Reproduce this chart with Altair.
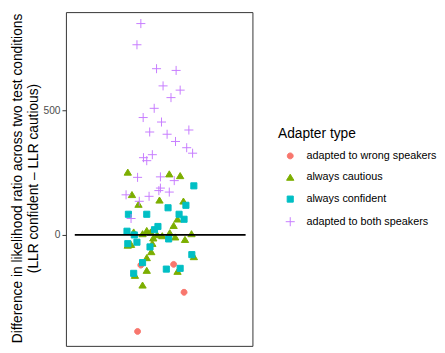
import altair as alt
import pandas as pd

types = ["adapted to wrong speakers", "always cautious", "always confident", "adapted to both speakers"]
colors = ["#F8766D", "#7CAE00", "#00BFC4", "#C77CFF"]
fills = ["#F8766D", "#7CAE00", "#00BFC4", "transparent"]
shapes = [
    "M-0.85,0A0.85,0.85 0 1,0 0.85,0A0.85,0.85 0 1,0 -0.85,0Z",
    "M0,-0.95L1.05,0.8L-1.05,0.8Z",
    "M-0.88,-0.88H0.88V0.88H-0.88Z",
    "M-1.3,0H1.3M0,-1.3V1.3",
]

# horizontal jitter (x units around the single category) and y values
wrong_jitter = [-0.118, 0.093, 0.160, -0.139]
wrong_values = [-121, -118, -230, -387]

cautious_jitter = [-0.202, 0.065, 0.135, -0.175, 0.002, 0.156, -0.133, 0.118, 0.093,
                   -0.164, -0.080, -0.107, -0.055, 0.068, 0.208, 0.103, 0.166, -0.038,
                   -0.013, 0.020, -0.202, -0.181, -0.044, -0.051, -0.080, 0.223,
                   -0.080, 0.118, -0.156, -0.107]
cautious_values = [251, 244, 237, 161, 139, 135, 122, 63, 37,
                   11, 17, 4, 11, 8, 4, -9, -19, -13,
                   0, -4, -42, -39, -35, -68, -92, -88,
                   -143, -147, -163, -202]

confident_jitter = [0.223, 0.172, 0.057, -0.198, -0.080, 0.128, 0.160, -0.008, -0.030,
                    -0.207, -0.160, 0.061, -0.202, -0.143, -0.059, 0.210, -0.107,
                    0.046, 0.135, -0.164]
confident_values = [197, 119, 109, 83, 83, 83, 63, 34, 21,
                    15, 0, -16, -35, -29, -48, -79, -111,
                    -137, -134, -154]

both_jitter = [-0.118, -0.143, -0.017, 0.109, 0.025, 0.135, 0.076, -0.032, -0.103,
               0.015, 0.191, -0.061, 0.051, 0.105, 0.177, 0.215, -0.044, -0.101,
               -0.080, -0.139, 0.008, 0.097, 0.008, -0.002, 0.065, -0.213, -0.065,
               -0.128, -0.181]
both_values = [848, 763, 667, 660, 598, 581, 551, 508, 471,
               453, 421, 413, 404, 375, 350, 328, 322, 310,
               298, 231, 233, 218, 188, 178, 172, 161, 155,
               135, 66]

rows = []
for t, js, vs in [
    (types[0], wrong_jitter, wrong_values),
    (types[1], cautious_jitter, cautious_values),
    (types[2], confident_jitter, confident_values),
    (types[3], both_jitter, both_values),
]:
    for j, v in zip(js, vs):
        rows.append({"jit": j, "diff": v, "type": t})
df = pd.DataFrame(rows)

hline = pd.DataFrame({"y": [0]})

xscale = alt.Scale(domain=[-0.6, 0.6], nice=False, zero=False)
yscale = alt.Scale(domain=[-445, 894], nice=False, zero=False)

legend = alt.Legend(
    title="Adapter type",
    orient="none",
    legendX=216,
    legendY=117,
    titleFontSize=14,
    titleFontWeight="normal",
    titleColor="#000000",
    titleFont="Liberation Sans",
    titlePadding=10,
    labelFontSize=11,
    labelFont="Liberation Sans",
    labelColor="#000000",
    rowPadding=10,
    symbolSize=50,
    symbolStrokeWidth=1,
    symbolOffset=7,
    labelOffset=11,
    padding=0,
)

points = alt.Chart(df).mark_point(size=50, strokeWidth=1, opacity=1).encode(
    x=alt.X("jit:Q", scale=xscale, axis=None),
    y=alt.Y(
        "diff:Q",
        scale=yscale,
        axis=alt.Axis(
            title=["Difference in likelihood ratio across two test conditions",
                   "(LLR confident \u2013 LLR cautious)"],
            values=[0, 500],
            grid=False,
            domain=False,
            tickColor="#333333",
            tickSize=4,
            labelColor="#4D4D4D",
            labelFontSize=10.4,
            labelFont="Liberation Sans",
            labelPadding=2,
            titleFont="Liberation Sans",
            titleFontSize=14,
            titleFontWeight="normal",
            titleColor="#000000",
            titleAngle=-90,
            titleBaseline="top",
            titleLineHeight=16,
            titleX=-56,
            titleY=169,
            titleAlign="center",
        ),
    ),
    fill=alt.Fill("type:N", scale=alt.Scale(domain=types, range=fills), legend=legend),
    stroke=alt.Stroke("type:N", scale=alt.Scale(domain=types, range=colors), legend=legend),
    shape=alt.Shape("type:N", scale=alt.Scale(domain=types, range=shapes), legend=legend),
)

rule = alt.Chart(hline).mark_rule(color="black", strokeWidth=1.8).encode(
    x=alt.datum(-0.543),
    x2=alt.datum(0.556),
    y=alt.Y("y:Q"),
)

chart = alt.layer(points, rule).properties(
    width=190,
    height=340,
    autosize=alt.AutoSizeParams(type="none"),
    padding={"left": 59, "top": 1, "right": 188, "bottom": 0},
    background="white",
).configure_view(stroke="#333333", strokeWidth=1)

chart.save("out.html", embed_options={"renderer": "svg", "actions": False})
